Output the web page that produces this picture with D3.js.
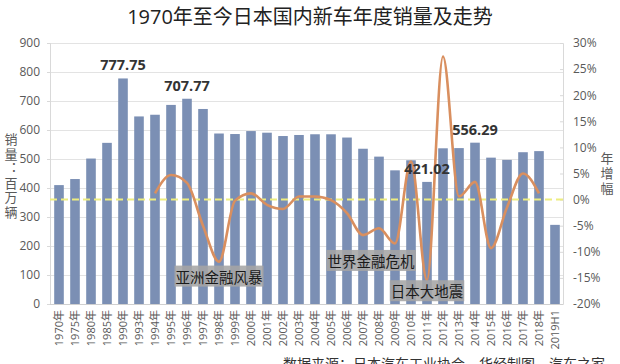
<!DOCTYPE html>
<html><head><meta charset="utf-8">
<script src="https://cdn.jsdelivr.net/npm/d3@7"></script>
<style>
html,body{margin:0;padding:0;background:#fff;overflow:hidden;}
text{font-family:"Open Sans","Noto Sans CJK SC",sans-serif;}
</style></head>
<body>
<svg id="chart" width="620" height="364"></svg>
<script>
const categories = ["1970年","1975年","1980年","1985年","1990年","1993年","1994年","1995年","1996年","1997年","1998年","1999年","2000年","2001年","2002年","2003年","2004年","2005年","2006年","2007年","2008年","2009年","2010年","2011年","2012年","2013年","2014年","2015年","2016年","2017年","2018年","2019H1"];
const sales = [410.0,430.9,501.6,555.7,777.75,646.8,652.6,686.5,707.77,672.5,587.9,586.1,596.3,590.7,579.2,582.8,585.3,585.2,574.0,535.4,508.2,460.9,495.6,421.02,536.9,537.6,556.29,504.7,497.0,523.4,527.2,272.9];
const growthYears = ["1994年","1995年","1996年","1997年","1998年","1999年","2000年","2001年","2002年","2003年","2004年","2005年","2006年","2007年","2008年","2009年","2010年","2011年","2012年","2013年","2014年","2015年","2016年","2017年","2018年"];
const growth = [1.2,4.7,3.2,-5.0,-11.9,-0.2,1.2,-1.0,-1.8,0.6,0.6,-0.1,-2.6,-6.8,-5.5,-8.4,7.3,-15.4,27.4,0.6,3.4,-9.3,-1.5,5.0,1.2];
const leftTicks = [0,100,200,300,400,500,600,700,800,900];
const rightTicks = [-20,-15,-10,-5,0,5,10,15,20,25,30];
const labeledBars = ["1990年","1996年","2011年","2014年"];
const eventYears = [["1998年","1998年"],["2007年","2008年"],["2011年","2011年"]];
const eventTexts = ["亚洲金融风暴","世界金融危机","日本大地震"];
const eventLevels = [-14.9,-11.9,-17.7];
const title = "1970年至今日本国内新车年度销量及走势";
const leftTitle = "销量：百万辆";
const rightTitle = "年增幅";
const source = "数据来源：日本汽车工业协会，华经制图，汽车之家";

const svg = d3.select("#chart");
const L = 51, R = 563, T = 43, B = 304;

const x = d3.scaleBand().domain(categories).range([L, R]).paddingInner(0.4).paddingOuter(0.2);
const y = d3.scaleLinear().domain([0, 900]).range([B, T]);
const y2 = d3.scaleLinear().domain([-20, 30]).range([B, T]);
const cx = d => x(d) + x.bandwidth() / 2;

// title
svg.append("text").attr("x", 310).attr("y", 24).attr("text-anchor", "middle")
  .attr("font-size", 20).attr("fill", "#222").text(title);

// gridlines
svg.append("g").selectAll("line").data(leftTicks.filter(d => d > 0)).join("line")
  .attr("x1", L - 1).attr("x2", R).attr("y1", d => Math.round(y(d)) + 0.5).attr("y2", d => Math.round(y(d)) + 0.5)
  .attr("stroke", "#e3e3e3").attr("stroke-width", 1);

// left axis
const gl = svg.append("g").attr("transform", `translate(${L - 1},0)`)
  .call(d3.axisLeft(y).tickValues(leftTicks).tickSize(3).tickPadding(7));
gl.select(".domain").attr("stroke", "#d9d9d9");
gl.selectAll(".tick line").attr("stroke", "#d9d9d9");
gl.selectAll(".tick text").attr("font-size", 12).attr("fill", "#595959")
  .style("font-family", "'Open Sans',sans-serif");

// right axis
const gr = svg.append("g").attr("transform", `translate(${R},0)`)
  .call(d3.axisRight(y2).tickValues(rightTicks).tickSize(-3).tickPadding(10).tickFormat(d => d + "%"));
gr.select(".domain").attr("stroke", "#d9d9d9");
gr.selectAll(".tick line").attr("stroke", "#d9d9d9");
gr.selectAll(".tick text").attr("font-size", 12).attr("fill", "#595959")
  .style("font-family", "'Open Sans',sans-serif");

// bars
svg.append("g").selectAll("rect").data(categories).join("rect")
  .attr("x", (d) => x(d)).attr("width", x.bandwidth())
  .attr("y", (d, i) => y(sales[i])).attr("height", (d, i) => B - y(sales[i]))
  .attr("fill", "#7b8fb4");

// bottom axis
const gb = svg.append("g").attr("transform", `translate(0,${B})`)
  .call(d3.axisBottom(x).tickSize(0).tickPadding(0));
gb.select(".domain").attr("stroke", "#d0d0d0").attr("d", `M${L - 1},0.5H${R}`);
gb.selectAll(".tick text").attr("font-size", 11).attr("fill", "#595959")
  .attr("text-anchor", "end").attr("transform", "translate(4,6) rotate(-90)").attr("dy", 0).attr("x", 0).attr("y", 0)
  .style("font-family", "'Open Sans','Noto Sans CJK SC',sans-serif");

// zero reference dashed line
svg.append("line").attr("x1", L - 1).attr("x2", R)
  .attr("y1", y2(0)).attr("y2", y2(0))
  .attr("stroke", "#eded80").attr("stroke-width", 2).attr("stroke-dasharray", "7,4");

// growth line
const line = d3.line()
  .x((d, i) => cx(growthYears[i]))
  .y(d => y2(d))
  .curve(d3.curveMonotoneX);
svg.append("path").datum(growth).attr("d", line)
  .attr("fill", "none").attr("stroke", "#d98f5f").attr("stroke-width", 2.6)
  .attr("stroke-linejoin", "round");

// data labels
svg.append("g").selectAll("text").data(labeledBars).join("text")
  .attr("x", d => cx(d))
  .attr("y", d => y(sales[categories.indexOf(d)]) - 8)
  .attr("text-anchor", "middle").attr("font-size", 14.5).attr("font-weight", "bold")
  .attr("fill", "#333").style("font-family", "'Open Sans',sans-serif")
  .text(d => sales[categories.indexOf(d)].toFixed(2));

// event annotations
const eg = svg.append("g").selectAll("g").data(eventTexts).join("g")
  .attr("transform", (d, i) => `translate(${(cx(eventYears[i][0]) + cx(eventYears[i][1])) / 2},${y2(eventLevels[i])})`);
eg.append("text").attr("text-anchor", "middle").attr("font-size", 14.5)
  .attr("dy", "0.36em").attr("fill", "#1a1a1a")
  .style("font-family", "'Noto Sans CJK SC',sans-serif")
  .text(d => d)
  .each(function () {
    const bb = this.getBBox();
    d3.select(this.parentNode).insert("rect", "text")
      .attr("x", bb.x - 1).attr("y", bb.y).attr("width", bb.width + 2).attr("height", bb.height)
      .attr("fill", "#a5a5a5").attr("opacity", 0.88);
  });

// axis titles (vertical)
svg.append("text").attr("x", 11).attr("y", 133)
  .style("writing-mode", "vertical-rl").style("letter-spacing", "1.5px")
  .attr("font-size", 13).attr("fill", "#595959")
  .style("font-family", "'Noto Sans CJK SC',sans-serif")
  .text(leftTitle);
svg.append("text").attr("x", 607).attr("y", 152)
  .style("writing-mode", "vertical-rl").style("letter-spacing", "2px")
  .attr("font-size", 13).attr("fill", "#595959")
  .style("font-family", "'Noto Sans CJK SC',sans-serif")
  .text(rightTitle);

// source (cut at the bottom edge, as in the reference)
svg.append("text").attr("x", 283).attr("y", 369).attr("font-size", 14).attr("fill", "#333")
  .style("font-family", "'Noto Sans CJK SC',sans-serif")
  .text(source);
</script>
</body></html>
